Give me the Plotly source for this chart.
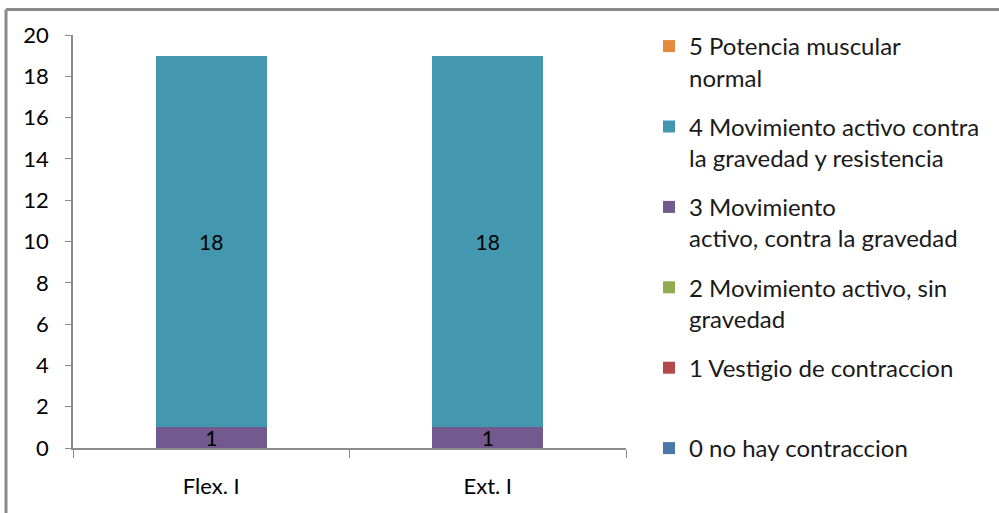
import plotly.graph_objects as go

categories = ["Flex. I", "Ext. I"]
series_names = [
    "0 no hay contraccion",
    "1 Vestigio de contraccion<br> ",
    "2 Movimiento activo, sin<br>gravedad",
    "3 Movimiento<br>activo, contra la gravedad",
    "4 Movimiento activo contra<br>la gravedad y resistencia",
    "5 Potencia muscular<br>normal",
]
series_values = [
    [0, 0],
    [0, 0],
    [0, 0],
    [1, 1],
    [18, 18],
    [0, 0],
]
series_colors = ["#4A76AA", "#B4494A", "#8FAD4E", "#735A8E", "#4398B0", "#E68A3E"]
y_ticks = [0, 2, 4, 6, 8, 10, 12, 14, 16, 18, 20]

FONT = "Lato"
W, H = 999, 513
ML, MR, MT, MB = 73, 373, 35, 65
PW, PH = W - ML - MR, H - MT - MB

fig = go.Figure()
n = len(series_names)
for i, (name, vals, col) in enumerate(zip(series_names, series_values, series_colors)):
    fig.add_trace(go.Bar(
        x=categories, y=vals, name=name,
        marker=dict(color=col, line=dict(width=0)),
        text=[str(v) if v else "" for v in vals],
        textposition="inside", insidetextanchor="middle",
        textangle=0, constraintext="none",
        textfont=dict(family=FONT, size=21, color="#000000"),
        legendgroup=name, legendrank=100 + (n - i),
    ))

fig.update_layout(
    width=W, height=H,
    margin=dict(l=ML, r=MR, t=MT, b=MB, autoexpand=False),
    barmode="stack", bargap=0.6,
    paper_bgcolor="white", plot_bgcolor="white",
    font=dict(family=FONT, size=21, color="#000000"),
    showlegend=True,
    legend=dict(
        xref="paper", x=(649 - ML) / PW, xanchor="left",
        yref="container", y=1 - 24 / H, yanchor="top",
        traceorder="grouped", tracegroupgap=15,
        valign="top", maxheight=1,
        font=dict(family=FONT, size=24, color="#1a1a1a"),
        bgcolor="rgba(0,0,0,0)",
    ),
    xaxis=dict(
        showline=True, linecolor="#8c8c8c", linewidth=1.5,
        ticks="outside", tickson="boundaries", ticklen=8, tickcolor="#8c8c8c",
        showgrid=False, ticklabelstandoff=18,
        tickfont=dict(family=FONT, size=22, color="#000000"),
    ),
    yaxis=dict(
        range=[0, 20], tickvals=y_ticks,
        showline=True, linecolor="#8c8c8c", linewidth=1.5,
        ticks="outside", ticklen=6, tickcolor="#8c8c8c",
        showgrid=False, zeroline=False, ticklabelstandoff=12,
        tickfont=dict(family=FONT, size=22, color="#000000"),
    ),
    shapes=[
        dict(type="line", xref="paper", yref="paper",
             x0=(6 - ML) / PW, x1=(1005 - ML) / PW,
             y0=(H - MB - 9.5) / PH, y1=(H - MB - 9.5) / PH,
             line=dict(color="#8a8a8a", width=3)),
        dict(type="line", xref="paper", yref="paper",
             x0=(6 - ML) / PW, x1=(6 - ML) / PW,
             y0=(H - MB - 9.5) / PH, y1=(H - MB - 520) / PH,
             line=dict(color="#8a8a8a", width=3)),
    ],
)

fig.write_html("out.html", config={"displayModeBar": False},
               post_script="document.body.style.margin='0';")
